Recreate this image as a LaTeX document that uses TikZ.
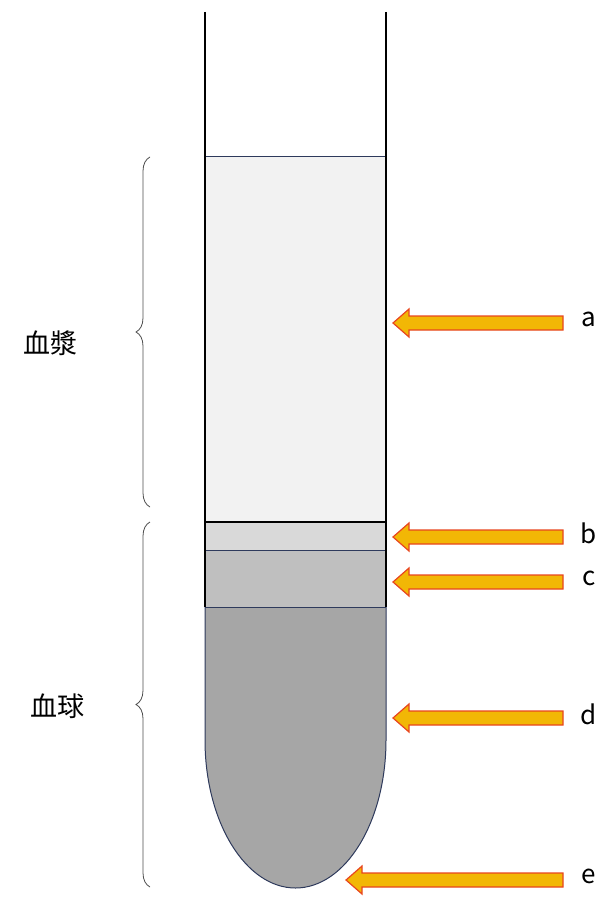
\documentclass[tikz,border=0pt]{standalone}
\usepackage{fontspec}
\newfontfamily\cjk{Noto Sans CJK JP}
\usetikzlibrary{decorations.pathreplacing}
\definecolor{navy}{HTML}{2E3A5C}
\definecolor{arrfill}{HTML}{F2B705}
\definecolor{arredge}{HTML}{E8461E}
\begin{document}
\begin{tikzpicture}[x=1pt,y=-1pt,
  lbl/.style={font=\cjk\fontsize{27}{30}\selectfont, text=black},
  brace/.style={decorate,decoration={brace,amplitude=14pt},draw=black!70,line width=0.8pt},
  arr/.style={fill=arrfill,draw=arredge,line width=1.2pt,line join=miter}]
\useasboundingbox (0,0) rectangle (610,909);
% regions
\fill[black!5] (205,157) rectangle (386,522);
\fill[black!15] (205,522) rectangle (386,550);
\fill[black!25] (205,550) rectangle (386,607);
\fill[black!35] (205,607) -- (205,740) arc[start angle=180,end angle=0,x radius=90.5,y radius=148] -- (386,607) -- cycle;
\draw[navy,line width=1pt] (205,607) -- (205,740) arc[start angle=180,end angle=0,x radius=90.5,y radius=148] -- (386,607);
\draw[navy,line width=1pt] (205,157) -- (386,157);
\draw[navy,line width=1pt] (205,550) -- (386,550);
\draw[navy,line width=1pt] (205,607) -- (386,607);
\draw[black,line width=1.3pt] (205,522) -- (386,522);
\draw[black,line width=1.3pt] (205,12) -- (205,607) (386,12) -- (386,607);
% braces
\draw[brace] (150,507) -- (150,157);
\draw[brace] (150,887) -- (150,522);
\node[lbl] (plasma) at (50,343) {血漿};
\node[lbl] (cells) at (57,706) {血球};
% arrows
\foreach \y/\t/\tip in {323/a/393,537/b/393,582/c/393,718/d/393,880/e/346}{
  \draw[arr] (\tip,\y) -- (\tip+16,\y-14) -- (\tip+16,\y-7) -- (563,\y-7) -- (563,\y+7) -- (\tip+16,\y+7) -- (\tip+16,\y+14) -- cycle;
  \node[font=\cjk\fontsize{26}{28}\selectfont,text=black] (l\t) at (589,\y-4) {\t};
}
\end{tikzpicture}
\end{document}
